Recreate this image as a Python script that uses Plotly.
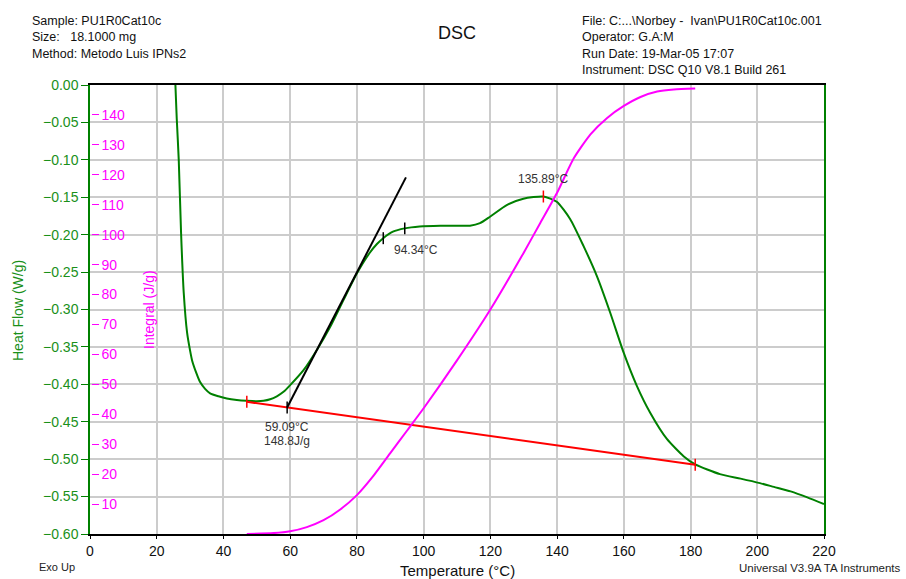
import numpy as np
import plotly.graph_objects as go

# ---------------- data ----------------
hf_temp = [25.6, 26.0, 26.6, 27.3, 28.1, 29.1, 30.0, 30.6, 31.8, 33.0, 34.5, 36.0, 38.5, 41.0,
           44.0, 47.0, 50.0, 52.0, 54.0, 56.0, 58.0, 60.0, 64.0, 68.0, 72.0, 76.0, 80.1,
           83.8, 86.0, 87.8, 90.8, 94.3, 98.8, 105.0, 110.0, 113.9, 116.9, 119.9, 124.9, 129.9,
           135.9, 139.9, 143.9, 147.9, 151.9, 155.9, 159.9, 163.9, 167.9, 172.9, 177.9,
           181.4, 188.8, 195.0, 200.8, 205.0, 210.0, 215.0, 220.0]
hf_vals = [0.000, -0.045, -0.100, -0.198, -0.278, -0.331, -0.355, -0.368, -0.384, -0.397,
           -0.406, -0.412, -0.416, -0.419, -0.421, -0.422, -0.4225, -0.422, -0.420, -0.416,
           -0.410, -0.401, -0.381, -0.354, -0.323, -0.287, -0.251, -0.2245, -0.2125, -0.205,
           -0.196, -0.1916, -0.189, -0.188, -0.188, -0.188, -0.1846, -0.176, -0.1604, -0.152,
           -0.149, -0.156, -0.179, -0.215, -0.255, -0.304, -0.357, -0.402, -0.438, -0.473,
           -0.496, -0.507, -0.520, -0.526, -0.532, -0.537, -0.543, -0.551, -0.560]

int_temp = [47.0, 55.0, 60.0, 65.0, 70.0, 75.0, 80.0, 85.0, 90.0, 95.0, 100.0, 110.0, 120.0,
            130.0, 135.0, 140.0, 145.0, 150.0, 155.0, 160.0, 165.0, 170.0, 175.0, 181.4]
int_vals = [0.0, 0.3, 0.9, 2.3, 4.6, 8.2, 13.0, 19.5, 27.0, 34.5, 42.0, 58.0, 75.0,
            94.0, 104.0, 114.0, 125.5, 133.5, 139.0, 143.0, 146.0, 147.8, 148.5, 148.8]

x_ticks = list(range(0, 221, 20))
hf_ticks = [round(-0.05 * i, 2) for i in range(13)]
int_ticks = list(range(10, 141, 10))

base_temps = [47.0, 181.4]
base_vals = [-0.4234, -0.5075]
onset_temp = 59.09
tangent_end = (94.7, -0.1234)
curve_marks = [87.9, 94.34]
peak_temp = 135.89
area_value = 148.8

header_left = ["Sample: PU1R0Cat10c", "Size:   18.1000 mg", "Method: Metodo Luis IPNs2"]
header_right = ["File: C:...\\Norbey -  Ivan\\PU1R0Cat10c.001", "Operator: G.A:M",
                "Run Date: 19-Mar-05 17:07", "Instrument: DSC Q10 V8.1 Build 261"]

# ---------------- styling ----------------
FONT = "Liberation Sans, Arial, sans-serif"
GREEN = "#008000"
GREEN_T = "#1a901a"
MAGENTA = "#ff00ff"
RED = "#ff0000"
GRID = "#cccccc"

L, R, T, B = 90, 824, 85, 534
W, H = 906, 579

def pxx(p):
    return (p - L) / (R - L)

def pxy(p):
    return (B - p) / (B - T)

fig = go.Figure()

fig.add_trace(go.Scatter(x=hf_temp, y=hf_vals, mode="lines",
                         line=dict(color=GREEN, width=2, shape="spline", smoothing=0.6),
                         hoverinfo="skip", showlegend=False))
fig.add_trace(go.Scatter(x=int_temp, y=int_vals, mode="lines", yaxis="y2",
                         line=dict(color=MAGENTA, width=2, shape="spline", smoothing=0.6),
                         hoverinfo="skip", showlegend=False))
fig.add_trace(go.Scatter(x=base_temps, y=base_vals, mode="lines",
                         line=dict(color=RED, width=2), hoverinfo="skip", showlegend=False))
onset_val = float(np.interp(onset_temp, base_temps, base_vals))
fig.add_trace(go.Scatter(x=[onset_temp, tangent_end[0]], y=[onset_val, tangent_end[1]],
                         mode="lines", line=dict(color="black", width=2),
                         hoverinfo="skip", showlegend=False))

d = 0.008
def tick_segments(ts, vs):
    xs, ys = [], []
    for t, v in zip(ts, vs):
        xs += [t, t, None]
        ys += [v - d, v + d, None]
    return xs, ys

peak_val = float(np.interp(peak_temp, hf_temp, hf_vals))
rx, ry = tick_segments([base_temps[0], base_temps[1], peak_temp],
                       [base_vals[0], base_vals[1], peak_val])
fig.add_trace(go.Scatter(x=rx, y=ry, mode="lines", line=dict(color=RED, width=1.5),
                         hoverinfo="skip", showlegend=False))
bt = [onset_temp] + curve_marks
bv = [onset_val] + [float(np.interp(t, hf_temp, hf_vals)) for t in curve_marks]
bx, by = tick_segments(bt, bv)
fig.add_trace(go.Scatter(x=bx, y=by, mode="lines", line=dict(color="black", width=1.5),
                         hoverinfo="skip", showlegend=False))

ann = []
lab_font = dict(family=FONT, size=12, color="#333333")
ann.append(dict(x=onset_temp, y=onset_val, xref="x", yref="y", text=f"{onset_temp:.2f}°C",
                showarrow=False, font=lab_font, yshift=-19))
ann.append(dict(x=onset_temp, y=onset_val, xref="x", yref="y", text=f"{area_value:.1f}J/g",
                showarrow=False, font=lab_font, yshift=-33))
ann.append(dict(x=curve_marks[1], y=bv[2], xref="x", yref="y", text=f"{curve_marks[1]:.2f}°C",
                showarrow=False, font=lab_font, xanchor="left", xshift=-13, yshift=-22))
ann.append(dict(x=peak_temp, y=peak_val, xref="x", yref="y", text=f"{peak_temp:.2f}°C",
                showarrow=False, font=lab_font, yshift=18))

hdr_font = dict(family=FONT, size=12.5, color="#111111")
ann.append(dict(x=pxx(30), y=pxy(12), xref="paper", yref="paper", text="<br>".join(header_left),
                showarrow=False, xanchor="left", yanchor="top", align="left", font=hdr_font))
ann.append(dict(x=pxx(580), y=pxy(12), xref="paper", yref="paper", text="<br>".join(header_right),
                showarrow=False, xanchor="left", yanchor="top", align="left", font=hdr_font))
ann.append(dict(x=0.5, y=pxy(33), xref="paper", yref="paper", text="DSC", showarrow=False,
                xanchor="center", yanchor="middle", font=dict(family=FONT, size=18, color="#111111")))
ann.append(dict(x=pxx(37), y=pxy(567), xref="paper", yref="paper", text="Exo Up", showarrow=False,
                xanchor="left", yanchor="middle", font=dict(family=FONT, size=11, color="#222222")))
ann.append(dict(x=pxx(903), y=pxy(568), xref="paper", yref="paper",
                text="Universal V3.9A TA Instruments", showarrow=False,
                xanchor="right", yanchor="middle", font=dict(family=FONT, size=11.5, color="#222222")))
ann.append(dict(x=0.5, y=pxy(570), xref="paper", yref="paper", text="Temperature (°C)",
                showarrow=False, xanchor="center", yanchor="middle",
                font=dict(family=FONT, size=15, color="#111111")))
ann.append(dict(x=pxx(18), y=pxy(311), xref="paper", yref="paper", text="Heat Flow (W/g)",
                showarrow=False, textangle=-90, xanchor="center", yanchor="middle",
                font=dict(family=FONT, size=14, color=GREEN_T)))
ann.append(dict(x=pxx(149), y=pxy(310), xref="paper", yref="paper", text="Integral (J/g)",
                showarrow=False, textangle=-90, xanchor="center", yanchor="middle",
                font=dict(family=FONT, size=14, color=MAGENTA)))

fig.update_layout(
    width=W, height=H,
    margin=dict(l=L, r=W - R, t=T, b=H - B),
    paper_bgcolor="white", plot_bgcolor="white",
    showlegend=False,
    annotations=ann,
    xaxis=dict(range=[0, 220], tickvals=x_ticks, ticks="outside", ticklen=3, tickcolor="black",
               showline=True, linecolor="black", linewidth=1.5, mirror=True,
               showgrid=True, gridcolor=GRID, gridwidth=1.5, zeroline=False,
               ticklabelstandoff=0,
               tickfont=dict(family=FONT, size=14, color="#111111")),
    yaxis=dict(range=[-0.6, 0.0], tickvals=hf_ticks, tickformat=".2f", ticks="outside",
               ticklen=7, tickcolor=GREEN, showline=True, linecolor=GREEN, linewidth=1.5,
               mirror=True, showgrid=True, gridcolor=GRID, gridwidth=1.5, zeroline=False,
               tickfont=dict(family=FONT, size=14, color=GREEN_T)),
    yaxis2=dict(range=[0, 150], overlaying="y", side="right", anchor="free", position=0.001,
                tickvals=int_ticks, ticks="outside", ticklen=7, tickcolor=MAGENTA,
                showline=False, showgrid=False, zeroline=False,
                tickfont=dict(family=FONT, size=14, color=MAGENTA)),
)

fig.write_html("out.html")
